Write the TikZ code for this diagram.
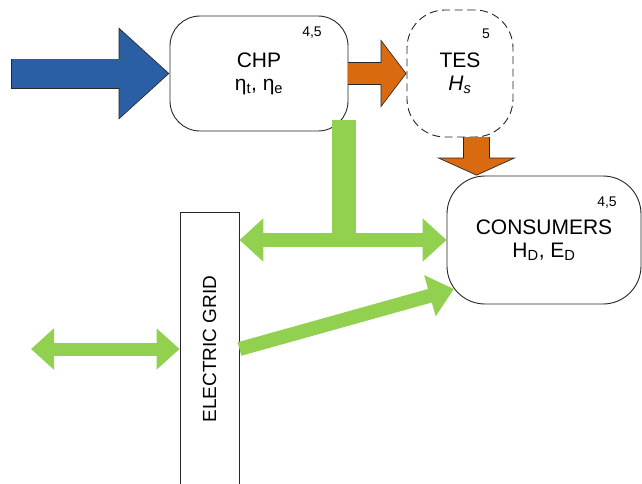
\documentclass[tikz,border=0pt]{standalone}
\usepackage{fontspec}
\setmainfont{Liberation Sans}
\usetikzlibrary{arrows.meta}
\definecolor{fuelblue}{RGB}{42,95,166}
\definecolor{heatorange}{RGB}{217,106,16}
\definecolor{powergreen}{RGB}{146,208,80}
\tikzset{
  plant/.style={draw=black!85, line width=0.9pt, rounded corners=#1, align=center,
    font=\fontsize{21}{23}\selectfont},
  tag/.style={font=\fontsize{14}{16}\selectfont},
  outline/.style={draw=black!85},
  greenflow/.style={draw=powergreen, line width=#1},
}
\begin{document}
\begin{tikzpicture}[x=1pt,y=-1pt]
  \useasboundingbox (0,0) rectangle (642,483);
  \clip (0,0) rectangle (642,483);
  % units
  \node [plant=30pt, minimum width=178pt, minimum height=115pt] (chp) at (259,73.5)
    {CHP\\η\textsubscript{t}, η\textsubscript{e}};
  \node [plant=38pt, dash pattern=on 8pt off 4.5pt, minimum width=106pt, minimum height=127pt] (tes) at (460,73.5)
    {TES\\\textit{H\textsubscript{s}}};
  \node [plant=38pt, minimum width=194pt, minimum height=128pt] (cons) at (544,240)
    {CONSUMERS\\H\textsubscript{D}, E\textsubscript{D}};
  \node [draw=black!85, line width=0.9pt, minimum width=59pt, minimum height=274pt] (grid) at (209.5,349) {};
  \node [rotate=90, font=\fontsize{19}{21}\selectfont] (gridtext) at (grid.center) {ELECTRIC GRID};
  \node [tag] (chptag) at (312,32.5) {4,5};
  \node [tag] (testag) at (486,34) {5};
  \node [tag] (constag) at (607,203) {4,5};
  \coordinate (fuel) at (11,73.5);
  \coordinate (hs) at (476.5,137);
  \coordinate (stem) at (344,120);
  \coordinate (ext) at (31,349);
  \coordinate (sink) at (454,289);
  % fuel
  \draw [outline, line width=30pt, -{Triangle[length=51pt,width=89pt]}] (fuel) -- (chp.west);
  \draw [fuelblue, line width=28.4pt, shorten >=1.2pt, -{Triangle[length=49pt,width=85.5pt]}] ([xshift=0.8pt]fuel) -- (chp.west);
  % heat
  \draw [outline, line width=23pt, -{Triangle[length=26pt,width=67pt]}] (chp.east) -- (tes.west);
  \draw [heatorange, line width=21.4pt, shorten >=1pt, -{Triangle[length=24.2pt,width=62.4pt]}] (chp.east) -- (tes.west);
  \draw [outline, line width=27pt, -{Triangle[length=18pt,width=79pt]}] (hs) -- (hs |- cons.north);
  \draw [heatorange, line width=25.4pt, shorten >=0.9pt, -{Triangle[length=16.3pt,width=71.6pt]}] (hs) -- (hs |- cons.north);
  % electricity
  \draw [greenflow=24pt] (stem) -- (stem |- cons.west);
  \draw [greenflow=14pt, {Triangle[length=24pt,width=42pt]}-{Triangle[length=24pt,width=42pt]}] (grid.east |- cons.west) -- (cons.west);
  \draw [greenflow=13pt, {Triangle[length=23pt,width=40pt]}-{Triangle[length=23pt,width=40pt]}] (ext) -- (grid.west |- ext);
  \draw [greenflow=14pt, -{Triangle[length=25pt,width=41pt]}] (grid.east |- ext) -- (sink);
\end{tikzpicture}
\end{document}
